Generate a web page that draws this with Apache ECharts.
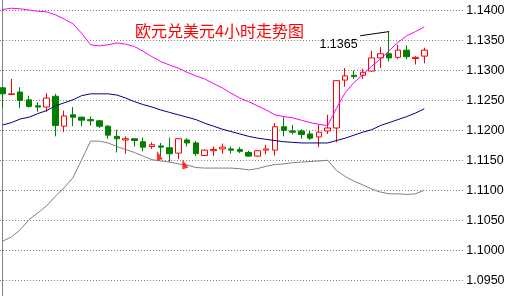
<!DOCTYPE html>
<html><head><meta charset="utf-8">
<script src="https://cdn.jsdelivr.net/npm/echarts@6/dist/echarts.min.js"></script>
<style>html,body{margin:0;padding:0;background:#fff;}#c{width:506px;height:296px;}</style>
</head><body><div id="c"></div>
<script>
// EUR/USD 4H candles (open, close, low, high)
const opens  = [1.1271,1.1260,1.1264,1.1251,1.1241,1.1239,1.1257,1.1207,1.1226,1.1222,1.1218,1.1216,1.1207,1.1190,1.1184,1.1186,1.1181,1.1173,1.1174,1.1171,1.1162,1.1184,1.1179,1.1158,1.1166,1.1169,1.1169,1.1168,1.1163,1.1157,1.1167,1.1167,1.1206,1.1199,1.1199,1.1194,1.1189,1.1199,1.1204,1.1284,1.1292,1.1292,1.1299,1.1321,1.1328,1.1322,1.1334,1.1320,1.1324];
const closes = [1.1261,1.1261,1.1250,1.1240,1.1239,1.1254,1.1208,1.1224,1.1222,1.1217,1.1216,1.1207,1.1192,1.1186,1.1186,1.1183,1.1172,1.1176,1.1172,1.1161,1.1186,1.1179,1.1161,1.1167,1.1168,1.1172,1.1167,1.1165,1.1157,1.1166,1.1169,1.1206,1.1200,1.1197,1.1193,1.1187,1.1197,1.1204,1.1283,1.1291,1.1290,1.1297,1.1321,1.1328,1.1321,1.1334,1.1323,1.1322,1.1334];
const lows   = [1.1237,1.1259,1.1237,1.1238,1.1231,1.1231,1.1190,1.1197,1.1207,1.1207,1.1208,1.1204,1.1186,1.1163,1.1161,1.1173,1.1165,1.1169,1.1157,1.1147,1.1152,1.1173,1.1157,1.1157,1.1157,1.1161,1.1161,1.1162,1.1156,1.1156,1.1160,1.1158,1.1190,1.1193,1.1186,1.1184,1.1172,1.1194,1.1180,1.1273,1.1286,1.1286,1.1298,1.1304,1.1315,1.1319,1.1319,1.1310,1.1312];
const highs  = [1.1272,1.1286,1.1272,1.1258,1.1247,1.1262,1.1261,1.1233,1.1239,1.1223,1.1223,1.1217,1.1209,1.1201,1.1190,1.1187,1.1188,1.1180,1.1179,1.1188,1.1187,1.1187,1.1182,1.1168,1.1173,1.1178,1.1173,1.1172,1.1166,1.1167,1.1176,1.1212,1.1222,1.1209,1.1202,1.1199,1.1209,1.1226,1.1284,1.1304,1.1300,1.1303,1.1333,1.1339,1.1365,1.1343,1.1342,1.1324,1.1338];

// Bollinger bands
const upperBand  = [1.1402,1.1404,1.1403,1.1401,1.1399,1.1398,1.1393,1.1386,1.1378,1.1362,1.1343,1.1341,1.1343,1.1346,1.1344,1.1340,1.1332,1.1323,1.1315,1.1309,1.1304,1.1297,1.1291,1.1286,1.1278,1.1271,1.1262,1.1254,1.1248,1.1241,1.1234,1.1226,1.1223,1.1221,1.1217,1.1213,1.1210,1.1208,1.1237,1.1263,1.1280,1.1293,1.1307,1.1319,1.1333,1.1347,1.1358,1.1365,1.1373];
const middleBand = [1.1209,1.1213,1.1219,1.1222,1.1228,1.1233,1.1241,1.1246,1.1251,1.1258,1.1261,1.1261,1.1261,1.1259,1.1254,1.1248,1.1243,1.1239,1.1234,1.1230,1.1226,1.1222,1.1218,1.1212,1.1207,1.1202,1.1198,1.1194,1.1190,1.1187,1.1185,1.1183,1.1181,1.1180,1.1179,1.1179,1.1179,1.1179,1.1183,1.1187,1.1192,1.1197,1.1201,1.1208,1.1213,1.1218,1.1223,1.1229,1.1236];
const lowerBand  = [1.1015,1.1022,1.1034,1.1051,1.1062,1.1074,1.1090,1.1104,1.1121,1.1151,1.1182,1.1182,1.1179,1.1173,1.1168,1.1163,1.1157,1.1151,1.1149,1.1147,1.1144,1.1142,1.1138,1.1137,1.1137,1.1137,1.1137,1.1136,1.1134,1.1136,1.1140,1.1143,1.1144,1.1146,1.1147,1.1148,1.1149,1.1150,1.1133,1.1123,1.1115,1.1109,1.1102,1.1097,1.1094,1.1094,1.1093,1.1094,1.1100];

// trade arrows [bar position, price]
const arrowMarks = [[17.9, 1.1157], [20.8, 1.1143]];

const yTicks = ['1.0950','1.1000','1.1050','1.1100','1.1150','1.1200','1.1250','1.1300','1.1350','1.1400'];
const titleText = '欧元兑美元4小时走势图';

const candleData = opens.map((o, i) => [i, o, closes[i], lows[i], highs[i]]);
const toXY = arr => arr.map((v, i) => [i, v]);
const peak = Math.max(...highs);
const peakIdx = highs.indexOf(peak);
const annotStart = [peakIdx - 3.3, peak - 0.0007];

const chart = echarts.init(document.getElementById('c'), null, {renderer: 'canvas'});
const lineBase = {type: 'line', showSymbol: false, symbol: 'none', clip: false, silent: true, z: 3};
chart.setOption({
  animation: false,
  backgroundColor: '#ffffff',
  title: {
    text: titleText, left: 135, top: 23, padding: 0,
    textStyle: {color: '#ff0000', fontSize: 16, fontWeight: 'normal', fontFamily: '"Noto Sans CJK SC"'}
  },
  grid: {left: 0, top: -19.33, width: 463.3, height: 329.33, outerBoundsMode: 'none', containLabel: false},
  xAxis: {type: 'value', min: -0.304, max: 52.44, show: false},
  yAxis: {
    type: 'value', position: 'right', min: 1.09, max: 1.145, interval: 0.005,
    axisLine: {show: true, lineStyle: {color: '#808080', width: 1}},
    axisTick: {show: false},
    splitLine: {show: true, lineStyle: {color: '#808080', width: 1, type: [1, 2]}},
    axisLabel: {
      margin: 3, color: '#000', fontSize: 12.5, fontFamily: '"Liberation Sans", Arial',
      verticalAlign: 'middle', padding: [7, 0, 0, 0],
      formatter: v => { const s = v.toFixed(4); return yTicks.indexOf(s) >= 0 ? s : ''; }
    }
  },
  series: [
    {
      type: 'candlestick', data: candleData, encode: {x: 0, y: [1, 2, 3, 4]},
      barWidth: 6, clip: false, z: 2,
      itemStyle: {color: '#ffffff', color0: '#008000', borderColor: '#ff0000', borderColor0: '#008000', borderWidth: 1}
    },
    Object.assign({}, lineBase, {name: 'upper', data: toXY(upperBand), lineStyle: {color: '#ff00ff', width: 1}}),
    Object.assign({}, lineBase, {name: 'middle', data: toXY(middleBand), lineStyle: {color: '#000080', width: 1}}),
    Object.assign({}, lineBase, {name: 'lower', data: toXY(lowerBand), lineStyle: {color: '#808080', width: 1}}),
    Object.assign({}, lineBase, {
      name: 'annot', data: [annotStart, [peakIdx, peak]], lineStyle: {color: '#000', width: 1}, z: 4,
      markPoint: {
        symbol: 'circle', symbolSize: 1, silent: true,
        itemStyle: {color: 'rgba(0,0,0,0)'},
        data: [{coord: annotStart}],
        label: {
          show: true, position: 'left', distance: 2, offset: [0, 8.5],
          formatter: () => peak.toFixed(4),
          color: '#000', fontSize: 12.5, fontFamily: '"Liberation Sans", Arial'
        }
      }
    }),
    {
      type: 'scatter', data: arrowMarks, symbol: 'path://M0,0L0,10L6,8Z', symbolSize: [6, 10],
      itemStyle: {color: '#ff0000'}, silent: true, z: 5
    }
  ]
});
</script></body></html>
